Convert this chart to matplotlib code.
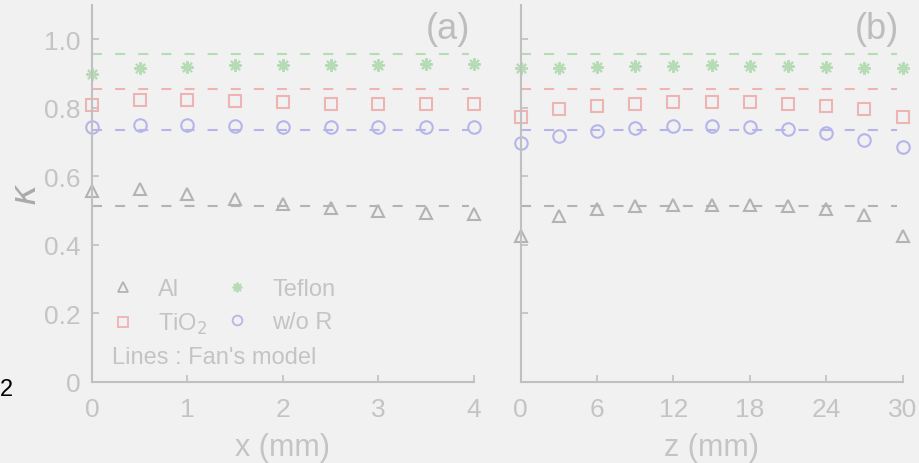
import matplotlib.pyplot as plt
import matplotlib
import numpy as np
from matplotlib.lines import Line2D

matplotlib.rcParams['font.family'] = ['Liberation Sans', 'DejaVu Sans']

bg = '#f1f1f1'
txt = '#c4c4c4'
spine = '#c0c0c0'

c_al = '#b3b3b3'
c_tio2 = '#eeb3b3'
c_tef = '#b6dcb6'
c_wor = '#b5b5ea'

# panel (a): along x
x_a = [0, 0.5, 1, 1.5, 2, 2.5, 3, 3.5, 4]
al_a = [0.559, 0.564, 0.550, 0.535, 0.520, 0.508, 0.499, 0.493, 0.489]
tio2_a = [0.810, 0.824, 0.824, 0.821, 0.816, 0.813, 0.812, 0.812, 0.812]
tef_a = [0.900, 0.918, 0.921, 0.925, 0.925, 0.925, 0.926, 0.927, 0.927]
wor_a = [0.745, 0.749, 0.749, 0.747, 0.745, 0.745, 0.744, 0.744, 0.745]

# panel (b): along z
z_b = [0, 3, 6, 9, 12, 15, 18, 21, 24, 27, 30]
al_b = [0.427, 0.486, 0.506, 0.515, 0.518, 0.518, 0.518, 0.515, 0.506, 0.488, 0.427]
tio2_b = [0.775, 0.796, 0.807, 0.813, 0.816, 0.816, 0.816, 0.813, 0.807, 0.796, 0.775]
tef_b = [0.918, 0.917, 0.920, 0.924, 0.924, 0.926, 0.924, 0.924, 0.920, 0.917, 0.917]
wor_b = [0.699, 0.718, 0.732, 0.741, 0.746, 0.746, 0.744, 0.740, 0.727, 0.706, 0.686]

# Fan's model (constant lines)
model_al = 0.514
model_tio2 = 0.855
model_tef = 0.959
model_wor = 0.735
line_x_a = [0, 3.95]
line_z_b = [0, 29.6]

fig = plt.figure(figsize=(9.2, 4.64), dpi=100, facecolor=bg)
ax1 = fig.add_axes([0.1, 0.1746, 0.415, 0.812])
ax2 = fig.add_axes([0.566, 0.1746, 0.415, 0.812])

ast = (8, 2, 0)
series = [
    ('Al', c_al, '^', model_al),
    ('TiO$_2$', c_tio2, 's', model_tio2),
    ('Teflon', c_tef, ast, model_tef),
    ('w/o R', c_wor, 'o', model_wor),
]

data = {
    ax1: (x_a, [al_a, tio2_a, tef_a, wor_a], line_x_a),
    ax2: (z_b, [al_b, tio2_b, tef_b, wor_b], line_z_b),
}

for ax, (xv, ys, lx) in data.items():
    ax.set_facecolor(bg)
    for (name, col, mk, model), yv in zip(series, ys):
        ax.plot(lx, [model, model], linestyle=(0, (4.8, 6.3)), color=col, linewidth=1.5)
        ax.plot(xv, yv, linestyle='none', marker=mk, markersize=9,
                markerfacecolor='none', markeredgecolor=col, markeredgewidth=1.5,
                clip_on=False)
    ax.set_ylim(0, 1.1)
    ax.set_yticks([0, 0.2, 0.4, 0.6, 0.8, 1.0])
    for s in ['top', 'right']:
        ax.spines[s].set_visible(False)
    for s in ['left', 'bottom']:
        ax.spines[s].set_color(spine)
        ax.spines[s].set_linewidth(1.5)
    ax.tick_params(direction='in', length=5, width=1.2, colors=spine,
                   labelcolor=txt, labelsize=19, pad=8)
    ax.tick_params(axis='x', pad=11)

ax1.set_xlim(0, 4)
ax1.set_xticks([0, 1, 2, 3, 4])
ax1.set_yticklabels(['0', '0.2', '0.4', '0.6', '0.8', '1.0'])
ax1.set_xlabel('x (mm)', color=txt, fontsize=22, labelpad=8)
ax1.set_ylabel(r'$\kappa$', color='#aaaaaa', fontsize=26)
ax1.yaxis.set_label_coords(-0.125, 0.5)

ax2.set_xlim(0, 30)
ax2.set_xticks([0, 6, 12, 18, 24, 30])
ax2.set_yticklabels([])
ax2.set_xlabel('z (mm)', color=txt, fontsize=22, labelpad=8)

ax1.text(0.99, 0.985, '(a)', transform=ax1.transAxes, ha='right', va='top',
         fontsize=26, color='#bdbdbd')
ax2.text(0.99, 0.985, '(b)', transform=ax2.transAxes, ha='right', va='top',
         fontsize=26, color='#bdbdbd')

handles = []
labels = []
for name, col, mk, model in series:
    handles.append(Line2D([], [], linestyle='none', marker=mk, markersize=7,
                          markerfacecolor='none', markeredgecolor=col,
                          markeredgewidth=1.3))
    labels.append(name)
leg = ax1.legend(handles, labels, ncol=2, loc='lower left',
                 bbox_to_anchor=(-0.006, 0.065), frameon=False, fontsize=17,
                 handlelength=1.0, handletextpad=1.0, columnspacing=0.75,
                 labelspacing=0.45)
for t in leg.get_texts():
    t.set_color(txt)
ax1.text(0.052, 0.066, "Lines : Fan's model", transform=ax1.transAxes,
         fontsize=17, color=txt, va='center', ha='left')

fig.text(0.0, 0.16, '2', fontsize=17, color='black', va='center')

fig.savefig('out.png', dpi=100, facecolor=bg)
